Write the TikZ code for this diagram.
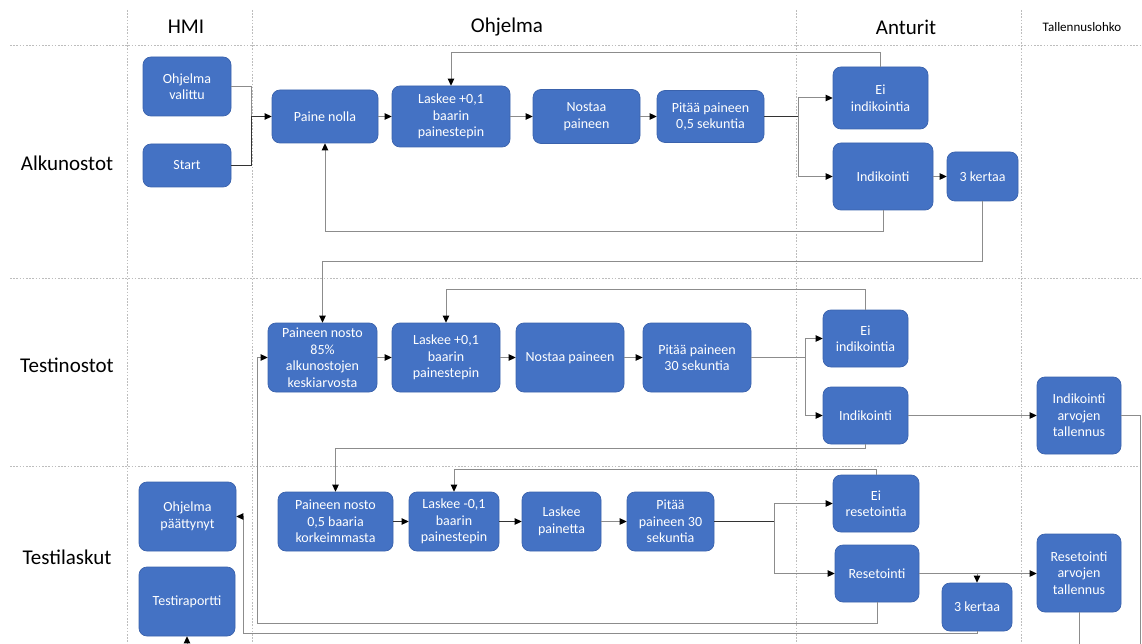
\documentclass[tikz,border=0pt]{standalone}
\usepackage{fontspec}
\setmainfont{Carlito}
\usetikzlibrary{arrows.meta}
\definecolor{boxblue}{HTML}{4472C4}
\definecolor{boxedge}{HTML}{3A62AC}
\definecolor{gridgray}{HTML}{BDBDBD}
\definecolor{linegray}{HTML}{8C8C8C}
\begin{document}
\begin{tikzpicture}[x=1pt,y=-1pt,
  box/.style={draw=boxedge, fill=boxblue, rounded corners=8pt, text=white,
    align=center, inner sep=1pt, line width=0.7pt,
    font=\fontsize{14}{16.5}\selectfont},
  hdr/.style={font=\fontsize{21}{24}\selectfont, text=black},
  small hdr/.style={font=\fontsize{13}{15}\selectfont, text=black},
  grid line/.style={draw=gridgray, line width=0.8pt, dash pattern=on 1.6pt off 1.6pt},
  conn/.style={draw=linegray, line width=1pt},
  dconn/.style={draw=black!80, line width=0.9pt},
  arr/.style={conn, -{Triangle[length=7pt,width=6.5pt,color=black]}},
  darr/.style={dconn, -{Triangle[length=7pt,width=6.5pt,color=black]}}]
\useasboundingbox (0,0) rectangle (1142,644);

% swimlane grid
\draw[grid line] (127,10) -- (127,644);
\draw[grid line] (252,10) -- (252,644);
\draw[grid line] (796,10) -- (796,644);
\draw[grid line] (1021,10) -- (1021,644);
\draw[grid line] (10,45) -- (1142,45);
\draw[grid line] (10,278) -- (1142,278);
\draw[grid line] (10,466) -- (1142,466);

% column and row headings
\node[hdr] (hHMI) at (186,27) {HMI};
\node[hdr] (hOhj) at (507,27) {Ohjelma};
\node[hdr] (hAnt) at (906,27) {Anturit};
\node[small hdr] (hTal) at (1082,27) {Tallennuslohko};
\node[hdr] (rAlk) at (67,163) {Alkunostot};
\node[hdr] (rTno) at (67,365) {Testinostot};
\node[hdr] (rTla) at (67,557) {Testilaskut};

% Alkunostot
\node[box, minimum width=88pt, minimum height=59pt] (ov) at (187,86.5) {Ohjelma\\valittu};
\node[box, minimum width=88pt, minimum height=43pt] (st) at (187,165.5) {Start};
\node[box, minimum width=106pt, minimum height=53pt] (pn) at (325,116.5) {Paine nolla};
\node[box, minimum width=118pt, minimum height=61pt] (l1) at (451,116.5) {Laskee +0,1\\baarin\\painestepin};
\node[box, minimum width=107pt, minimum height=54pt] (np1) at (586.5,116.5) {Nostaa\\paineen};
\node[box, minimum width=107pt, minimum height=52pt] (pp1) at (710.5,116.5) {Pitää paineen\\0,5 sekuntia};
\node[box, minimum width=95pt, minimum height=62pt] (ei1) at (880.5,98) {Ei\\indikointia};
\node[box, minimum width=100pt, minimum height=67pt] (ind1) at (883,176.5) {Indikointi};
\node[box, minimum width=71pt, minimum height=49pt] (k1) at (982.5,176.5) {3 kertaa};

% Testinostot
\node[box, minimum width=109pt, minimum height=69pt] (pa2) at (322.5,357.5) {Paineen nosto\\85\%\\alkunostojen\\keskiarvosta};
\node[box, minimum width=108pt, minimum height=69pt] (l2) at (446,357.5) {Laskee +0,1\\baarin\\painestepin};
\node[box, minimum width=108pt, minimum height=69pt] (np2) at (570,357.5) {Nostaa paineen};
\node[box, minimum width=108pt, minimum height=69pt] (pp2) at (697,357.5) {Pitää paineen\\30 sekuntia};
\node[box, minimum width=85pt, minimum height=57pt] (ei2) at (865.5,338.5) {Ei\\indikointia};
\node[box, minimum width=85pt, minimum height=57pt] (ind2) at (865.5,415.5) {Indikointi};
\node[box, minimum width=84pt, minimum height=77pt] (tal2) at (1079,415.5) {Indikointi\\arvojen\\tallennus};

% Testilaskut
\node[box, minimum width=97pt, minimum height=69pt] (op) at (187.5,516.5) {Ohjelma\\päättynyt};
\node[box, minimum width=96pt, minimum height=69pt] (tr) at (187,601.5) {Testiraportti};
\node[box, minimum width=115pt, minimum height=59pt] (pa3) at (335.5,521.5) {Paineen nosto\\0,5 baaria\\korkeimmasta};
\node[box, minimum width=90pt, minimum height=59pt] (l3) at (454,521.5) {Laskee -0,1\\baarin\\painestepin};
\node[box, minimum width=79pt, minimum height=59pt] (lp) at (561.5,521.5) {Laskee\\painetta};
\node[box, minimum width=87pt, minimum height=59pt] (pp3) at (670.5,521.5) {Pitää\\paineen 30\\sekuntia};
\node[box, minimum width=86pt, minimum height=57pt] (ei3) at (876,503.5) {Ei\\resetointia};
\node[box, minimum width=84pt, minimum height=57pt] (res) at (877,573.5) {Resetointi};
\node[box, minimum width=70pt, minimum height=48pt] (k3) at (977,607) {3 kertaa};
\node[box, minimum width=84pt, minimum height=78pt] (tal3) at (1079,573) {Resetointi\\arvojen\\tallennus};

% junctions and free ends
\coordinate (j1) at (251,116.5);
\coordinate (b1) at (798,116.5);
\coordinate (b2) at (805,357.5);
\coordinate (b3) at (774,521.5);
\coordinate (b4) at (977,573.5);
\coordinate (t5) at (257,623);
\coordinate (t6) at (243,633);
\coordinate (bot) at (0,644);
\coordinate (e2) at (1140,644);

% Alkunostot flow
\draw[conn] (ov.east) -| (j1);
\draw[dconn] (st.east) -| (j1);
\draw[darr] (j1) -- (pn.west);
\draw[arr] (pn.east) -- (pn.east -| l1.west);
\draw[arr] (l1.east) -- (l1.east -| np1.west);
\draw[arr] (np1.east) -- (np1.east -| pp1.west);
\draw[dconn] (pp1.east) -- (b1);
\draw[arr] (b1) |- (ei1.west);
\draw[arr] (b1) |- (ind1.west);
\draw[arr] (ind1.east) -- (ind1.east -| k1.west);
\draw[arr] (ei1.north) -- ++(0,-14) -| (l1.north);
\draw[arr] (ind1.south) -- ++(0,21) -| (pn.south);
\draw[arr] (k1.south) -- ++(0,60) -| (pa2.north);

% Testinostot flow
\draw[arr] (pa2.east) -- (pa2.east -| l2.west);
\draw[arr] (l2.east) -- (l2.east -| np2.west);
\draw[arr] (np2.east) -- (np2.east -| pp2.west);
\draw[conn] (pp2.east) -- (b2);
\draw[arr] (b2) |- (ei2.west);
\draw[arr] (b2) |- (ind2.west);
\draw[arr] (ind2.east) -- (ind2.east -| tal2.west);
\draw[arr] (ei2.north) -- ++(0,-20) -| (l2.north);
\draw[arr] (ind2.south) -- ++(0,4) -| (pa3.north);
\draw[conn] (tal2.east) -| (e2);

% Testilaskut flow
\draw[darr] (pa3.east) -- (pa3.east -| l3.west);
\draw[darr] (l3.east) -- (l3.east -| lp.west);
\draw[arr] (lp.east) -- (lp.east -| pp3.west);
\draw[dconn] (pp3.east) -- (b3);
\draw[arr] (b3) |- (ei3.west);
\draw[arr] (b3) |- (res.west);
\draw[arr] (ei3.north) -- ++(0,-5) -| (l3.north);
\draw[arr] (res.east) -- (res.east -| tal3.west);
\draw[arr] (b4) -- (k3.north);
\draw[arr] (res.south) |- (t5) |- (pa2.west);
\draw[arr] (k3.south) |- (t6) |- (op.east);
\draw[conn] (tal3.south) -- (tal3.south |- bot);
\draw[arr] (tr.south |- bot) -- (tr.south);
\end{tikzpicture}
\end{document}
